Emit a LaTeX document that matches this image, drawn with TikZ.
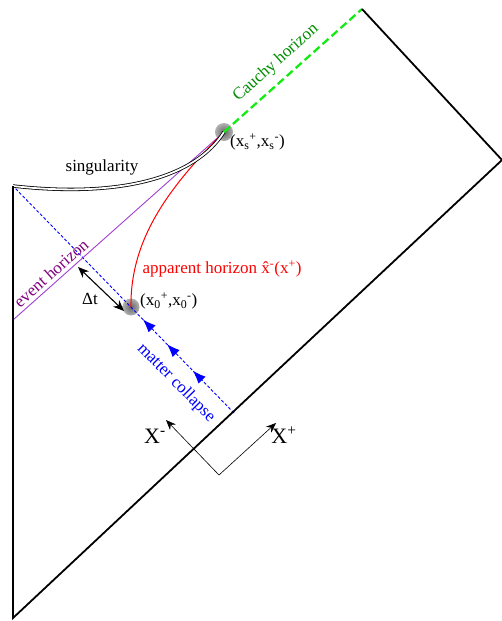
\documentclass[tikz,border=0pt]{standalone}
\usepackage{fontspec}
\setmainfont{Liberation Serif}
\usetikzlibrary{arrows.meta,decorations.markings}
\definecolor{evpurple}{RGB}{160,64,210}
\definecolor{evtext}{RGB}{128,0,128}
\definecolor{cgreen}{RGB}{20,235,20}
\definecolor{ctext}{RGB}{0,140,0}
\begin{document}
\begin{tikzpicture}[x=1pt,y=-1pt,
  font=\fontsize{17}{19}\selectfont,
  frame/.style={line width=1.8pt, line join=miter},
  dot/.style={inner color=black!60, outer color=black!30},
  lbl/.style={inner sep=1pt},
  bigx/.style={inner sep=1pt, font=\fontsize{22}{24}\selectfont},
  axarrow/.style={{Stealth[length=10pt,width=8pt]}-{Stealth[length=10pt,width=8pt]}, line width=0.6pt},
  dtarrow/.style={{Stealth[length=11pt,width=9pt]}-{Stealth[length=11pt,width=9pt]}, line width=1.1pt}]
\useasboundingbox (0,0) rectangle (502,621);
\coordinate (top) at (362,9);
\coordinate (right) at (502,160);
\coordinate (bottom) at (13,618);
\coordinate (left) at (13,186);
\coordinate (xs) at (224,132);
\coordinate (x0) at (131,307);
\coordinate (eh) at (13,320);
\coordinate (mc) at (234,413);
\coordinate (ax) at (219,475);
\coordinate (axm) at (166,420);
\coordinate (axp) at (276,423);
\coordinate (dta) at (78,267);
\coordinate (dtb) at (124,311);
% gray dots
\shade[dot] (x0) circle (8.5);
\shade[dot] (xs) circle (9);
% matter collapse line
\draw[blue, line width=0.9pt, dash pattern=on 3pt off 2pt,
  postaction={decorate},
  decoration={markings,
    mark=at position 0.186 with {\arrow[blue,solid]{Latex[length=13pt,width=10pt]}},
    mark=at position 0.303 with {\arrow[blue,solid]{Latex[length=13pt,width=10pt]}},
    mark=at position 0.412 with {\arrow[blue,solid]{Latex[length=13pt,width=10pt]}}}]
  (mc) -- (left);
% event horizon
\draw[evpurple, line width=0.9pt] (eh) -- (xs);
% apparent horizon
\draw[red, line width=1pt] (x0) .. controls (130,240) and (168,188) .. (xs);
% singularity
\draw[double, line width=0.8pt, double distance=1.8pt] (left) .. controls (120,198) and (195,178) .. (xs);
% Cauchy horizon
\draw[cgreen, line width=2.3pt, dash pattern=on 8pt off 4pt] (xs) -- (top);
% frame
\draw[frame] (top) -- (right) -- (bottom) -- (left);
% Delta t
\draw[dtarrow] (dta) -- (dtb);
% axes
\draw[axarrow] (axm) -- (ax) -- (axp);
% labels
\node[lbl] (lsing) at (102,167) {singularity};
\node[lbl, anchor=west] (lxs) at (229,142) {(x\textsubscript{s}\textsuperscript{+},x\textsubscript{s}\textsuperscript{-})};
\node[lbl, anchor=west] (lx0) at (139,301) {(x\textsubscript{0}\textsuperscript{+},x\textsubscript{0}\textsuperscript{-})};
\node[lbl, red] (lah) at (222,269) {apparent horizon \^{x}\textsuperscript{-}(x\textsuperscript{+})};
\node[lbl] (ldt) at (90,299) {Δt};
\node[lbl, evtext, rotate=41.6] (leh) at (51,273) {event horizon};
\node[lbl, ctext, rotate=41.7] (lch) at (276,63) {Cauchy horizon};
\node[lbl, blue, rotate=-45.5] (lmc) at (176,383) {matter collapse};
\node[bigx] (lxm) at (155,436) {X\textsuperscript{-}};
\node[bigx] (lxp) at (284,435) {X\textsuperscript{+}};
\end{tikzpicture}
\end{document}
